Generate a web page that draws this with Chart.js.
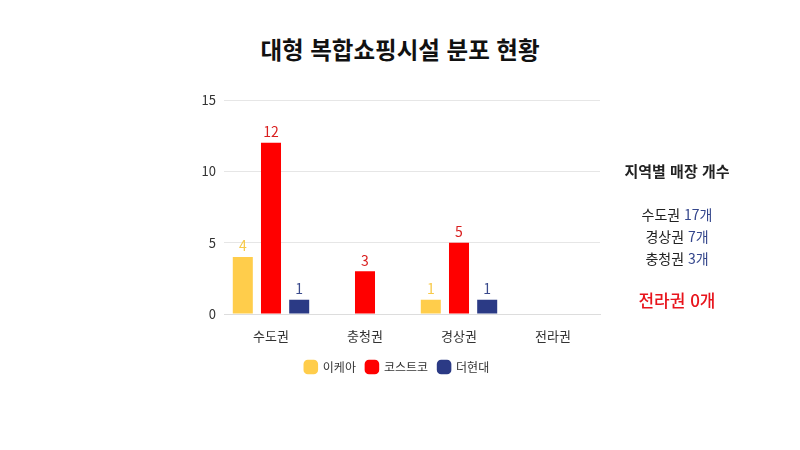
<!DOCTYPE html>
<html lang="ko">
<head>
<meta charset="utf-8">
<title>대형 복합쇼핑시설 분포 현황</title>
<script src="https://cdn.jsdelivr.net/npm/chart.js@4.4.1/dist/chart.umd.min.js"></script>
<style>
    body { margin: 0; background: #fff; font-family: "Noto Sans CJK KR", "Noto Sans", sans-serif; }
    #wrap { position: relative; width: 800px; height: 450px; overflow: hidden; }
    #title { position: absolute; left: 0; top: 32px; width: 800px; text-align: center;
             font-size: 23.5px; font-weight: bold; color: #111; }
    #side { position: absolute; left: 597px; top: 160px; width: 160px; text-align: center; color: #222; }
    #side .head { font-size: 15px; font-weight: bold; margin-bottom: 22px; }
    #side .row { font-size: 14px; line-height: 22px; }
    #side .row span { color: #34468c; }
    #side .none { font-size: 17px; color: #e8141c; margin-top: 18px; font-weight: 500; }
    canvas { position: absolute; left: 0; top: 0; }
</style>
</head>
<body>
<div id="wrap">
    <div id="title">대형 복합쇼핑시설 분포 현황</div>
    <canvas id="chart" width="800" height="450"></canvas>
    <div id="side"></div>
</div>
<script>
// Regions and store counts per brand
const regions = ["수도권", "충청권", "경상권", "전라권"];
const ikea = [4, 0, 1, 0];
const costco = [12, 3, 5, 0];
const hyundai = [1, 0, 1, 0];
const yTicks = [0, 5, 10, 15];

const barColors = ["#ffcd4b", "#ff0000", "#2b3a85"];
const labelColors = ["#f7c948", "#d91e1e", "#3a4a8c"];

// Draw the value above each bar (zeros are skipped)
const valueLabels = {
    id: "valueLabels",
    afterDatasetsDraw(chart) {
        const ctx = chart.ctx;
        ctx.save();
        ctx.font = "14px 'Noto Sans CJK KR', 'Noto Sans', sans-serif";
        ctx.textAlign = "center";
        ctx.textBaseline = "bottom";
        chart.data.datasets.forEach((ds, i) => {
            const meta = chart.getDatasetMeta(i);
            ctx.fillStyle = labelColors[i];
            meta.data.forEach((bar, j) => {
                if (!ds.data[j]) return;
                ctx.fillText(ds.data[j], bar.x, bar.y - 4);
            });
        });
        ctx.restore();
    }
};

const chart = new Chart(document.getElementById("chart"), {
    type: "bar",
    data: {
        labels: regions,
        datasets: [
            { label: "이케아", data: ikea, backgroundColor: barColors[0] },
            { label: "코스트코", data: costco, backgroundColor: barColors[1] },
            { label: "더현대", data: hyundai, backgroundColor: barColors[2] }
        ]
    },
    options: {
        responsive: false,
        animation: false,
        devicePixelRatio: 1,
        categoryPercentage: 0.9,
        barPercentage: 0.71,
        layout: { padding: { left: 194, right: 200, top: 100, bottom: 67 } },
        plugins: {
            title: { display: false },
            tooltip: { enabled: false },
            legend: {
                position: "bottom",
                labels: {
                    usePointStyle: true,
                    pointStyle: "rectRounded",
                    boxWidth: 13,
                    boxHeight: 13,
                    padding: 10,
                    color: "#333",
                    font: { size: 12, family: "'Noto Sans CJK KR', 'Noto Sans', sans-serif" }
                }
            }
        },
        scales: {
            x: {
                grid: { display: false },
                border: { display: true, color: "#dddddd" },
                ticks: {
                    color: "#333",
                    padding: 6,
                    font: { size: 13, family: "'Noto Sans CJK KR', 'Noto Sans', sans-serif" }
                },
                afterFit(scale) { scale.height = 37; }
            },
            y: {
                min: 0,
                max: 15,
                afterBuildTicks(scale) { scale.ticks = yTicks.map(v => ({ value: v })); },
                grid: { color: "#e6e6e6", drawTicks: false },
                border: { display: false },
                ticks: {
                    color: "#333",
                    padding: 8,
                    font: { size: 13, family: "'Noto Sans CJK KR', 'Noto Sans', sans-serif" }
                },
                afterFit(scale) { scale.width = 30; }
            }
        }
    },
    plugins: [valueLabels]
});

// Side panel: totals per region, largest first, empty regions shown in red
function buildSide() {
    const side = document.getElementById("side");
    const totals = regions.map((r, i) => ({ name: r, total: ikea[i] + costco[i] + hyundai[i] }));
    let html = '<div class="head">지역별 매장 개수</div>';
    totals.filter(t => t.total > 0)
        .sort((a, b) => b.total - a.total)
        .forEach(t => { html += `<div class="row">${t.name} <span>${t.total}개</span></div>`; });
    totals.filter(t => t.total === 0)
        .forEach(t => { html += `<div class="none">${t.name} ${t.total}개</div>`; });
    side.innerHTML = html;
}
buildSide();
</script>
</body>
</html>
